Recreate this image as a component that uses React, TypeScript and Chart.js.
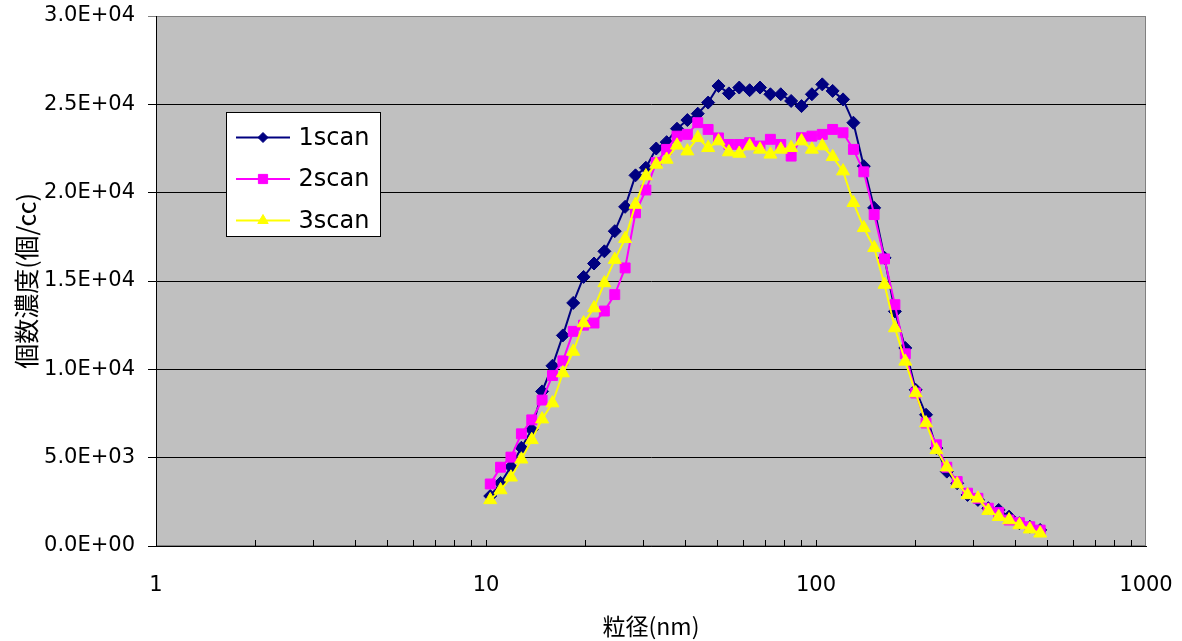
import React, { useEffect, useRef } from 'react';
import { Chart, registerables } from 'chart.js';
import { drawPoint } from 'chart.js/helpers';

Chart.register(...registerables);

// Particle diameters (nm)
const SIZES = [
  10.3, 11.07, 11.9, 12.8, 13.76, 14.79, 15.9, 17.1, 18.38, 19.76,
  21.25, 22.84, 24.56, 26.4, 28.38, 30.51, 32.8, 35.27, 37.91, 40.76,
  43.82, 47.11, 50.65, 54.45, 58.54, 62.94, 67.66, 72.74, 78.21, 84.08,
  90.39, 97.18, 104.48, 112.32, 120.76, 129.82, 139.57, 150.05, 161.32, 173.43,
  186.46, 200.46, 215.51, 231.69, 249.09, 267.79, 287.9, 309.52, 332.76, 357.75,
  384.61, 413.49, 444.54, 477.92,
];

// Number concentration (個/cc)
const SCAN1 = [
  2830, 3570, 4480, 5560, 6580, 8750, 10200, 11920, 13760, 15230,
  15990, 16680, 17820, 19200, 20980, 21410, 22500, 22860, 23620, 24110,
  24470, 25100, 26040, 25620, 25950, 25800, 25950, 25570, 25570, 25190,
  24900, 25570, 26130, 25760, 25280, 23960, 21500, 19140, 16310, 13280,
  11210, 8840, 7430, 5540, 4210, 3550, 2890, 2610, 2140, 2040,
  1660, 1290, 1090, 910,
];
const SCAN2 = [
  3510, 4460, 5030, 6350, 7140, 8260, 9650, 10480, 12150, 12500,
  12620, 13300, 14230, 15740, 18860, 20150, 21700, 22450, 23200, 23300,
  23960, 23580, 23100, 22730, 22730, 22830, 22640, 23020, 22730, 22070,
  23110, 23200, 23300, 23580, 23390, 22450, 21180, 18760, 16250, 13660,
  10880, 8660, 6960, 5730, 4460, 3650, 2990, 2700, 2140, 1890,
  1470, 1320, 1090, 900,
];
const SCAN3 = [
  2610, 3170, 3890, 4910, 6010, 7180, 8090, 9790, 11010, 12620,
  13470, 14890, 16210, 17390, 19330, 20940, 21600, 21880, 22680, 22350,
  23110, 22540, 22920, 22300, 22220, 22640, 22450, 22170, 22450, 22540,
  22920, 22450, 22640, 22030, 21220, 19430, 18010, 16880, 14800, 12340,
  10450, 8660, 6960, 5440, 4460, 3510, 2890, 2700, 2000, 1660,
  1470, 1190, 950, 720,
];

const SERIES_LABELS = ['1scan', '2scan', '3scan'];
const X_TICKS = [1, 10, 100, 1000];
const X_MINOR_TICKS = [
  2, 3, 4, 5, 6, 7, 8, 9, 10,
  20, 30, 40, 50, 60, 70, 80, 90, 100,
  200, 300, 400, 500, 600, 700, 800, 900,
];
const Y_MIN = 0;
const Y_MAX = 30000;
const Y_STEP = 5000;
const X_TITLE = '粒径(nm)';
const Y_TITLE = '個数濃度(個/cc)';

function fmtSci(v: number): string {
  if (v === 0) return '0.0E+00';
  const e = Math.floor(Math.log10(Math.abs(v)) + 1e-9);
  const m = v / Math.pow(10, e);
  return m.toFixed(1) + 'E' + (e < 0 ? '-' : '+') + String(Math.abs(e)).padStart(2, '0');
}

const LATIN = '"DejaVu Sans", "Liberation Sans", sans-serif';
const CJK = '"Noto Sans CJK JP", "Noto Sans", sans-serif';

const plotBg = {
  id: 'plotBg',
  beforeDraw(chart: any) {
    const { ctx, chartArea: a } = chart;
    ctx.save();
    ctx.fillStyle = '#C0C0C0';
    ctx.fillRect(a.left, a.top, a.right - a.left, a.bottom - a.top);
    ctx.strokeStyle = '#808080';
    ctx.lineWidth = 1;
    ctx.strokeRect(a.left + 0.5, a.top + 0.5, a.right - a.left - 1, a.bottom - a.top - 1);
    ctx.restore();
  },
  beforeDatasetsDraw(chart: any) {
    const { ctx, chartArea: a } = chart;
    const xs = chart.scales.x;
    ctx.save();
    ctx.strokeStyle = '#000';
    ctx.lineWidth = 1;
    ctx.beginPath();
    X_MINOR_TICKS.forEach((v) => {
      const px = Math.round(xs.getPixelForValue(v)) + 0.5;
      ctx.moveTo(px, a.bottom);
      ctx.lineTo(px, a.bottom - 6);
    });
    ctx.stroke();
    ctx.restore();
  },
};

const LEGEND_RADII = [5, 6.5, 6];
const legendBox = {
  id: 'legendBox',
  afterDraw(chart: any) {
    const { ctx, chartArea: a } = chart;
    const bx = a.left + 70.5;
    const by = a.top + 96.5;
    const bw = 154;
    const bh = 124;
    ctx.save();
    ctx.fillStyle = '#FFFFFF';
    ctx.fillRect(bx, by, bw, bh);
    ctx.strokeStyle = '#000';
    ctx.lineWidth = 1;
    ctx.strokeRect(bx, by, bw, bh);
    chart.data.datasets.forEach((ds: any, i: number) => {
      const cy = by + 25 + i * 41.5;
      const lx0 = bx + 9.5;
      const lx1 = bx + 63.5;
      ctx.strokeStyle = ds.borderColor;
      ctx.lineWidth = 2;
      ctx.beginPath();
      ctx.moveTo(lx0, cy);
      ctx.lineTo(lx1, cy);
      ctx.stroke();
      ctx.fillStyle = ds.pointBackgroundColor;
      ctx.strokeStyle = ds.pointBorderColor;
      ctx.lineWidth = 1;
      drawPoint(ctx, { pointStyle: ds.pointStyle, radius: LEGEND_RADII[i], borderWidth: 1, rotation: 0 }, (lx0 + lx1) / 2, cy);
      ctx.fillStyle = '#000';
      ctx.font = '24px ' + LATIN;
      ctx.textBaseline = 'middle';
      ctx.textAlign = 'left';
      ctx.fillText(ds.label, bx + 72, cy + 1);
    });
    ctx.restore();
  },
};

const zeroPad = (s: any) => {
  s.paddingTop = 0;
  s.paddingBottom = 0;
  s.paddingLeft = 0;
  s.paddingRight = 0;
};

export default function App() {
  const ref = useRef<HTMLCanvasElement | null>(null);

  useEffect(() => {
    if (!ref.current) return;
    const mk = (arr: number[]) => SIZES.map((x, i) => ({ x, y: arr[i] }));
    const styles = [
      { color: '#000080', style: 'rectRot', r: 6.5, order: 3 },
      { color: '#FF00FF', style: 'rect', r: 7, order: 2 },
      { color: '#FFFF00', style: 'triangle', r: 7.5, order: 1 },
    ];
    const series = [SCAN1, SCAN2, SCAN3];
    const chart = new Chart(ref.current, {
      type: 'line',
      data: {
        datasets: series.map((s, i) => ({
          label: SERIES_LABELS[i],
          data: mk(s),
          borderColor: styles[i].color,
          backgroundColor: styles[i].color,
          pointBackgroundColor: styles[i].color,
          pointBorderColor: styles[i].color,
          pointStyle: styles[i].style,
          pointRadius: styles[i].r,
          pointBorderWidth: 1,
          borderWidth: 2,
          tension: 0,
          fill: false,
          order: styles[i].order,
        })),
      } as any,
      options: {
        responsive: false,
        animation: false,
        events: [],
        layout: { padding: { left: 0, top: 16, right: 36, bottom: 0 } },
        plugins: { legend: { display: false }, tooltip: { enabled: false } },
        scales: {
          x: {
            type: 'logarithmic',
            position: 'bottom',
            min: 1,
            max: 1000,
            afterBuildTicks: (s: any) => {
              s.ticks = X_TICKS.map((v) => ({ value: v }));
            },
            afterFit: (s: any) => {
              s.height = 95;
              zeroPad(s);
            },
            ticks: {
              autoSkip: false,
              maxRotation: 0,
              padding: 19,
              color: '#000',
              font: { family: LATIN, size: 21 },
              callback: (v: any) => String(v),
            },
            grid: { display: false },
            border: { display: true, color: '#000', width: 1 },
            title: {
              display: true,
              text: X_TITLE,
              color: '#000',
              font: { family: CJK, size: 23 },
              padding: { top: 0, bottom: 1 },
            },
          },
          y: {
            min: Y_MIN,
            max: Y_MAX,
            afterFit: (s: any) => {
              s.width = 156;
              zeroPad(s);
            },
            ticks: {
              stepSize: Y_STEP,
              padding: 13,
              color: '#000',
              font: { family: LATIN, size: 21 },
              callback: (v: any) => fmtSci(Number(v)),
            },
            grid: {
              color: (c: any) => (c.tick && c.tick.value === Y_MAX ? '#808080' : '#000'),
              lineWidth: 1,
              tickLength: 8,
              drawTicks: true,
            },
            border: { display: true, color: '#000', width: 1 },
            title: {
              display: true,
              text: Y_TITLE,
              color: '#000',
              font: { family: CJK, size: 25 },
              padding: { top: 11, bottom: 0 },
            },
          },
        },
      } as any,
      plugins: [plotBg, legendBox],
    });
    return () => chart.destroy();
  }, []);

  return (
    <div style={{ position: 'fixed', left: 0, top: 0, width: 1182, height: 641, background: '#fff' }}>
      <canvas ref={ref} width={1182} height={641} style={{ width: 1182, height: 641, display: 'block' }} />
    </div>
  );
}
